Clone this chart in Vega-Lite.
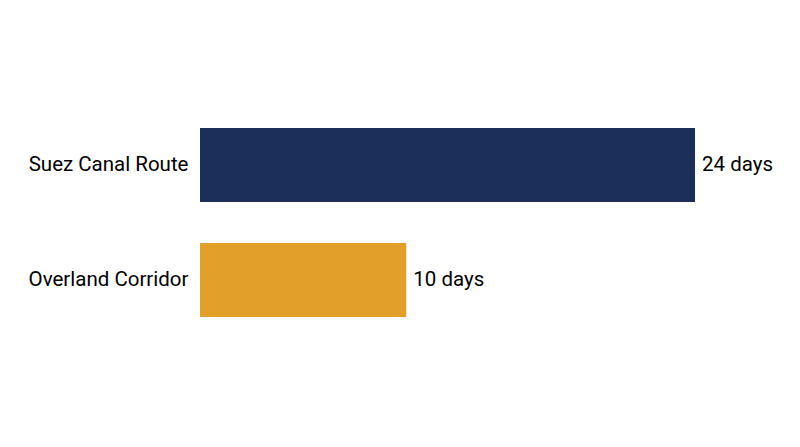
{
  "$schema": "https://vega.github.io/schema/vega-lite/v6.json",
  "autosize": {"type": "none"},
  "padding": {"left": 200, "top": 128, "right": 105, "bottom": 130},
  "width": 495,
  "height": 189,
  "background": "white",
  "data": {
    "values": [
      {"route": "Suez Canal Route", "days": 24},
      {"route": "Overland Corridor", "days": 10}
    ]
  },
  "transform": [{"calculate": "datum.days + ' days'", "as": "label"}],
  "encoding": {
    "y": {
      "field": "route",
      "type": "nominal",
      "sort": ["Suez Canal Route", "Overland Corridor"],
      "title": null,
      "scale": {"paddingInner": 0.3565, "paddingOuter": 0},
      "axis": {
        "domain": false,
        "ticks": false,
        "labelPadding": 12,
        "labelFontSize": 20.5,
        "labelFont": "Roboto",
        "labelColor": "#000000"
      }
    },
    "x": {
      "field": "days",
      "type": "quantitative",
      "scale": {"domain": [0, 24], "nice": false},
      "axis": null
    }
  },
  "layer": [
    {
      "mark": {"type": "bar"},
      "encoding": {
        "color": {
          "field": "route",
          "type": "nominal",
          "scale": {
            "domain": ["Suez Canal Route", "Overland Corridor"],
            "range": ["#1c2f5a", "#e29f2a"]
          },
          "legend": null
        }
      }
    },
    {
      "mark": {"type": "text", "align": "left", "baseline": "middle", "dx": 7, "fontSize": 20.5, "font": "Roboto", "color": "#000000"},
      "encoding": {"text": {"field": "label"}}
    }
  ],
  "config": {"view": {"stroke": null}}
}
